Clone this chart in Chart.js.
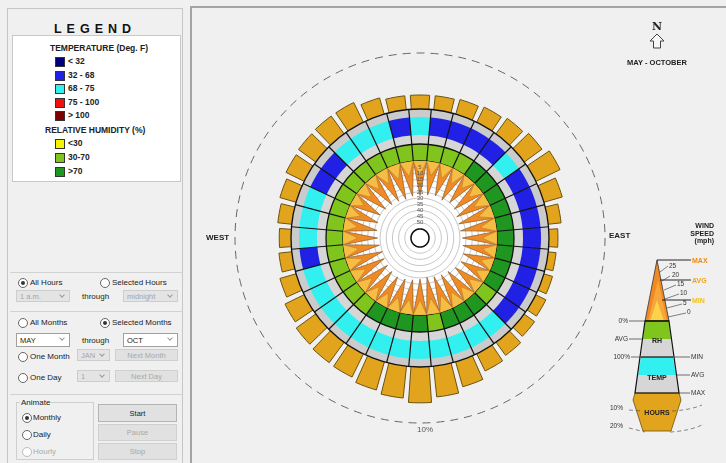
<!DOCTYPE html>
<html>
<head>
<meta charset="utf-8">
<title>Wind Wheel</title>
<script src="https://cdn.jsdelivr.net/npm/chart.js@4.4.1/dist/chart.umd.min.js"></script>
<style>
  body { margin:0; width:726px; height:463px; background:#f0f0f0; position:relative; overflow:hidden;
         font-family:"Liberation Sans", Arial, sans-serif; font-size:8px; color:#222; }
  .a { position:absolute; }
  .nar { font-family:"Liberation Sans Narrow", "Liberation Sans", sans-serif; }
  .sw { position:absolute; left:55px; width:8px; height:8px; border:1px solid #333; }
  .lt { position:absolute; left:68px; font-family:"Liberation Sans Narrow", sans-serif; font-size:8.5px; font-weight:bold; color:#222; }
  .radio { position:absolute; width:8px; height:8px; border:1px solid #666; border-radius:50%; background:#fff; }
  .radio.on::after { content:''; position:absolute; left:2px; top:2px; width:4px; height:4px; border-radius:50%; background:#333; }
  .radio.off { border-color:#bbb; }
  .sel { position:absolute; height:12px; background:#e4e4e4; border:1px solid #cdcdcd; color:#a4a4a4; line-height:12px; padding-left:3px; box-sizing:border-box; font-size:7.5px; }
  .sel.en { background:#fff; border-color:#a0a0a0; color:#222; }
  .sel::after { content:''; position:absolute; right:5px; top:2px; width:3px; height:3px; border-right:1px solid #999; border-bottom:1px solid #999; transform:rotate(45deg); }
  .btn { position:absolute; background:#e1e1e1; border:1px solid #cfcfcf; color:#a8a8a8; text-align:center; box-sizing:border-box; font-size:7.5px; }
  .btn.en { color:#222; border-color:#b4b4b4; }
  .sec { position:absolute; left:10px; width:172px; border-top:1px solid #d2d2d2; }
  canvas { position:absolute; }
</style>
</head>
<body>

<!-- left side panel -->
<div class="a" style="left:7px;top:8px;width:176px;height:460px;border:1px solid #c6c6c6;box-sizing:border-box;"></div>
<div class="a" style="left:0;width:190px;top:22px;text-align:center;font-weight:bold;font-size:12.5px;letter-spacing:5px;color:#111;">LEGEND</div>
<div class="a" style="left:12px;top:35px;width:169px;height:147px;background:#fff;border:1px solid #c8c8c8;box-sizing:border-box;"></div>
<div class="a nar" style="left:50px;top:43px;font-weight:bold;font-size:8.5px;">TEMPERATURE (Deg. F)</div>
<div id="tempLegend"></div>
<div class="a nar" style="left:45px;top:125px;font-weight:bold;font-size:8.5px;">RELATIVE HUMIDITY (%)</div>
<div id="rhLegend"></div>

<div class="sec" style="top:272px;"></div>
<div class="radio on" style="left:18px;top:278px;"></div><div class="a" style="left:30px;top:278px;">All Hours</div>
<div class="radio" style="left:100px;top:278px;"></div><div class="a" style="left:112px;top:278px;">Selected Hours</div>
<div class="sel" style="left:16px;top:290px;width:54px;">1 a.m.</div>
<div class="a" style="left:82px;top:292px;">through</div>
<div class="sel" style="left:123px;top:290px;width:55px;">midnight</div>

<div class="sec" style="top:311px;"></div>
<div class="radio" style="left:18px;top:318px;"></div><div class="a" style="left:30px;top:318px;">All Months</div>
<div class="radio on" style="left:100px;top:318px;"></div><div class="a" style="left:112px;top:318px;">Selected Months</div>
<div class="sel en" style="left:16px;top:333px;width:54px;height:14px;line-height:13px;">MAY</div>
<div class="a" style="left:82px;top:336px;">through</div>
<div class="sel en" style="left:123px;top:333px;width:55px;height:14px;line-height:13px;">OCT</div>
<div class="radio" style="left:18px;top:352px;"></div><div class="a" style="left:30px;top:352px;">One Month</div>
<div class="sel" style="left:77px;top:349px;width:33px;">JAN</div>
<div class="btn" style="left:115px;top:349px;width:63px;height:12px;line-height:11px;">Next Month</div>
<div class="radio" style="left:18px;top:373px;"></div><div class="a" style="left:30px;top:373px;">One Day</div>
<div class="sel" style="left:77px;top:370px;width:33px;">1</div>
<div class="btn" style="left:115px;top:370px;width:63px;height:12px;line-height:11px;">Next Day</div>

<div class="sec" style="top:394px;"></div>
<div class="a" style="left:16px;top:402px;width:78px;height:58px;border:1px solid #cfcfcf;box-sizing:border-box;"></div>
<div class="a" style="left:20px;top:398px;background:#f0f0f0;padding:0 1px;">Animate</div>
<div class="radio on" style="left:22px;top:413px;"></div><div class="a" style="left:33px;top:413px;">Monthly</div>
<div class="radio" style="left:22px;top:430px;"></div><div class="a" style="left:33px;top:430px;">Daily</div>
<div class="radio off" style="left:22px;top:447px;"></div><div class="a" style="left:33px;top:447px;color:#aaa;">Hourly</div>
<div class="btn en" style="left:98px;top:404px;width:79px;height:18px;line-height:17px;">Start</div>
<div class="btn" style="left:98px;top:424px;width:79px;height:17px;line-height:16px;">Pause</div>
<div class="btn" style="left:98px;top:443px;width:79px;height:17px;line-height:16px;">Stop</div>

<!-- main panel -->
<div class="a" style="left:190px;top:6px;width:536px;height:457px;border-left:2px solid #a4a4a4;border-top:2px solid #a4a4a4;box-sizing:border-box;"></div>

<canvas id="ringChart" width="400" height="400" style="left:220px;top:38px;"></canvas>
<canvas id="windChart" width="400" height="400" style="left:220px;top:38px;"></canvas>

<svg class="a" style="left:0;top:0;" width="726" height="463" font-family="Liberation Sans, Arial, sans-serif">
  <text x="206" y="240" font-size="8" font-weight="bold" fill="#222">WEST</text>
  <text x="609" y="238" font-size="8" font-weight="bold" fill="#222">EAST</text>
  <text x="425" y="432" font-size="8" fill="#555" text-anchor="middle">10%</text>

  <text x="657" y="30" font-size="11" font-weight="bold" font-family="DejaVu Serif, serif" text-anchor="middle" fill="#222">N</text>
  <polygon points="657,34 664,41 660.5,41 660.5,48 653.5,48 653.5,41 650,41" fill="#f8f8f8" stroke="#444" stroke-width="1"/>
  <text x="657" y="65" font-size="7.5" font-weight="bold" text-anchor="middle" fill="#222">MAY - OCTOBER</text>

  <g font-size="7" font-weight="bold" text-anchor="end" fill="#222">
    <text x="714" y="228">WIND</text>
    <text x="714" y="235.5">SPEED</text>
    <text x="714" y="243">(mph)</text>
  </g>

  <!-- key: wind speed spike -->
  <polygon points="657,260 669,321 645,321" fill="#f08a24"/>
  <polygon points="658,280 667,321 648,321" fill="#f6a63a"/>
  <polygon points="657,300 664,321 650,321" fill="#fcd24a"/>
  <polygon points="657,260 669,321 645,321" fill="none" stroke="#333" stroke-width="0.8"/>
  <g stroke="#111" stroke-width="0.9">
    <line x1="657" y1="260" x2="691" y2="260"/>
    <line x1="660" y1="280" x2="691" y2="280"/>
    <line x1="662" y1="300" x2="691" y2="300"/>
  </g>
  <g stroke="#333" stroke-width="0.6" fill="none">
    <path d="M660,272 L668,266"/><path d="M662,281 L670,276"/><path d="M664,290 L676,285"/>
    <path d="M665,299 L679,294"/><path d="M667,308 L682,304"/><path d="M668,317 L686,313"/>
  </g>
  <g font-size="6.5" fill="#333">
    <text x="669" y="268">25</text><text x="672" y="277">20</text><text x="677" y="286">15</text>
    <text x="680" y="295">10</text><text x="683" y="305">5</text><text x="687" y="314">0</text>
  </g>
  <g font-size="7" font-weight="bold">
    <text x="692" y="263" fill="#f08a10">MAX</text>
    <text x="692" y="283" fill="#f0a020">AVG</text>
    <text x="692" y="303" fill="#f0c020">MIN</text>
  </g>

  <!-- key: RH and TEMP bands -->
  <polygon points="645,321 669,321 671,339 643,339" fill="#80c41e"/>
  <polygon points="643,339 671,339 673,357 641,357" fill="#d6d6d6"/>
  <polygon points="641,357 673,357 676,375 638,375" fill="#33f0f0"/>
  <polygon points="638,375 676,375 679,393 635,393" fill="#d6d6d6"/>
  <polygon points="635,393 679,393 681,400 671,431 643,431 633,400" fill="#e2a41c" stroke="#6b5210" stroke-width="0.8"/>
  <polygon points="645,321 669,321 679,393 635,393" fill="none" stroke="#111" stroke-width="1.2"/>
  <line x1="641" y1="357" x2="673" y2="357" stroke="#111" stroke-width="1.2"/>
  <line x1="645" y1="321" x2="669" y2="321" stroke="#111" stroke-width="1.2"/>
  <g font-size="7" font-weight="bold" text-anchor="middle" fill="#222">
    <text x="657" y="343">RH</text>
    <text x="657" y="380">TEMP</text>
    <text x="657" y="415">HOURS</text>
  </g>
  <g stroke="#333" stroke-width="0.7">
    <line x1="629" y1="321" x2="645" y2="321"/>
    <line x1="629" y1="339" x2="643" y2="339"/>
    <line x1="631" y1="357" x2="641" y2="357"/>
    <line x1="673" y1="357" x2="690" y2="357"/>
    <line x1="676" y1="375" x2="690" y2="375"/>
    <line x1="679" y1="393" x2="690" y2="393"/>
  </g>
  <g stroke="#555" stroke-width="0.7" fill="none" stroke-dasharray="4,3">
    <path d="M629,410 L643,411 M672,411 Q690,410 702,405"/>
    <path d="M629,428 L645,432 M670,432 Q690,431 704,424"/>
  </g>
  <g font-size="6.5" fill="#333">
    <text x="628" y="323" text-anchor="end">0%</text>
    <text x="628" y="341" text-anchor="end">AVG</text>
    <text x="630" y="359" text-anchor="end">100%</text>
    <text x="691" y="359">MIN</text>
    <text x="691" y="377">AVG</text>
    <text x="691" y="395">MAX</text>
    <text x="610" y="410">10%</text>
    <text x="610" y="428">20%</text>
  </g>
</svg>

<script>
// compass directions, 10 degree sectors, clockwise from north
const directions = [0, 10, 20, 30, 40, 50, 60, 70, 80, 90, 100, 110, 120, 130, 140, 150, 160, 170,
                    180, 190, 200, 210, 220, 230, 240, 250, 260, 270, 280, 290, 300, 310, 320, 330, 340, 350];

// percent of selected hours with wind from each direction
const hoursPct = [2.5, 2.5, 2.7, 3.0, 3.4, 3.9, 4.8, 3.4, 2.3, 1.6, 1.4, 1.6, 2.0, 2.3, 2.9, 3.4, 4.6, 5.5,
                  6.4, 5.7, 5.2, 4.6, 4.5, 4.3, 3.8, 3.0, 2.3, 2.1, 2.5, 3.0, 3.6, 3.8, 3.9, 3.9, 3.0, 2.5];

// average dry bulb temperature (deg F) for each direction
const tempAvgF = [70, 66, 65, 64, 65, 68, 63, 62, 62, 61, 62, 63, 64, 66, 68, 69, 70, 71,
                  72, 72, 71, 71, 70, 70, 69, 68, 66, 69, 69, 68, 66, 67, 68, 69, 68, 67];

// average relative humidity (%) for each direction
const rhAvg = [64, 66, 67, 69, 72, 74, 76, 77, 78, 78, 77, 76, 72, 68, 71, 73, 74, 69,
               72, 73, 72, 71, 68, 66, 64, 63, 62, 61, 60, 61, 62, 62, 63, 63, 64, 64];

// wind speeds (mph) for each direction
const windMaxMph = [28, 27, 26, 27, 25, 26, 28, 29, 29, 28, 27, 25, 24, 25, 27, 28, 29, 30,
                    29, 28, 27, 26, 27, 28, 29, 30, 29, 28, 27, 26, 25, 26, 27, 28, 29, 28];
const windAvgMph = [12, 11, 11, 12, 10, 11, 12, 12, 13, 12, 11, 10, 10, 11, 11, 12, 13, 13,
                    12, 12, 11, 11, 11, 12, 12, 13, 12, 12, 11, 11, 10, 11, 11, 12, 12, 12];

// speed rings drawn inside the wheel
const mphRings = [5, 10, 15, 20, 25, 30, 35, 40, 45, 50];

const tempBins = [
  { label: '< 32', max: 32, color: '#00007f' },
  { label: '32  -  68', max: 68, color: '#2121e6' },
  { label: '68  -  75', max: 75, color: '#33f0f0' },
  { label: '75  -  100', max: 100, color: '#f01010' },
  { label: '> 100', max: Infinity, color: '#7f0000' }
];
const rhBins = [
  { label: '<30', max: 30, color: '#f5f500' },
  { label: '30-70', max: 70, color: '#80c41e' },
  { label: '>70', max: Infinity, color: '#1f961f' }
];

function binColor(bins, v) {
  return bins.find(b => v < b.max).color;
}

// legend rows
tempBins.forEach((b, i) => {
  const y = 57 + i * 13.5;
  document.getElementById('tempLegend').insertAdjacentHTML('beforeend',
    `<div class="sw" style="top:${y}px;background:${b.color}"></div><div class="lt" style="top:${y - 1}px">${b.label}</div>`);
});
rhBins.forEach((b, i) => {
  const y = 139 + i * 14;
  document.getElementById('rhLegend').insertAdjacentHTML('beforeend',
    `<div class="sw" style="top:${y}px;background:${b.color}"></div><div class="lt" style="top:${y - 1}px">${b.label}</div>`);
});

// ring radii of the wheel, in pixels of the ring chart
const R_GREEN = 94;
const R_RH = 103;
const R_TEMP = 121;
const R_OUT = 129;
const HOUR_PX = 5.6;     // pixels per percent of hours
const BAR_GAP = 36;      // arc spacing, leaves a gap between hour bars

const ringCtx = document.getElementById('ringChart').getContext('2d');
new Chart(ringCtx, {
  type: 'polarArea',
  data: {
    labels: directions.map(d => d + '°'),
    datasets: [
      { label: 'Relative humidity', data: directions.map(() => R_GREEN),
        backgroundColor: rhAvg.map(v => binColor(rhBins, v)), borderWidth: 0, order: 1, clip: false },
      { label: 'RH band', data: directions.map(() => R_RH),
        backgroundColor: '#d6d6d6', borderWidth: 0, order: 2, clip: false },
      { label: 'Temperature', data: directions.map(() => R_TEMP),
        backgroundColor: tempAvgF.map(v => binColor(tempBins, v)), borderWidth: 0, order: 3, clip: false },
      { label: 'Temp band', data: directions.map(() => R_OUT),
        backgroundColor: '#cbcbcb', borderWidth: 0, order: 4, clip: false },
      { label: 'Hours', data: hoursPct.map(p => R_OUT + p * HOUR_PX - BAR_GAP / 2),
        spacing: BAR_GAP,
        backgroundColor: '#e2a41c', borderColor: '#6b5210', borderWidth: 1, order: 5, clip: false }
    ]
  },
  options: {
    responsive: false,
    animation: false,
    events: [],
    layout: { padding: 71 },
    plugins: { legend: { display: false }, tooltip: { enabled: false } },
    scales: {
      r: {
        min: 0,
        max: R_OUT,
        startAngle: -5,
        afterBuildTicks: scale => {
          scale.ticks = [0, R_GREEN, R_OUT, R_OUT + 10 * HOUR_PX].map(v => ({ value: v }));
        },
        ticks: { display: false, z: 1 },
        grid: {
          circular: true,
          z: 1,
          color: c => c.tick && c.tick.value > R_OUT ? '#666' : '#111',
          lineWidth: c => c.tick && c.tick.value > R_OUT ? 1 : 1.3
        },
        border: { dash: c => c.tick && c.tick.value > R_OUT ? [8, 6] : [] },
        angleLines: { display: true, color: '#111', lineWidth: 1.2 },
        pointLabels: { display: false }
      }
    }
  }
});

// wind spikes: tip on each direction, base corners halfway between directions
const spikeLabels = [];
directions.forEach(d => { spikeLabels.push(d); spikeLabels.push(d + 5); });
const spikes = arr => arr.flatMap(v => [v, 0]);
const flat = v => spikeLabels.map(() => v);

// speed scale: 0 mph at the spike base circle, 55 mph at the centre circle
const BASE_R = 77, CENTER_R = 9, CENTER_MPH = 55;
const mphPx = (BASE_R - CENTER_R) / CENTER_MPH;
const mphMax = BASE_R / mphPx;
const mphMin = mphMax - 129 / mphPx;

const windCtx = document.getElementById('windChart').getContext('2d');
new Chart(windCtx, {
  type: 'radar',
  data: {
    labels: spikeLabels,
    datasets: [
      { label: 'center', data: flat(CENTER_MPH), fill: 'start', backgroundColor: '#fff',
        borderColor: '#111', borderWidth: 1.6, order: 0 },
      { label: 'Avg wind', data: spikes(windAvgMph), fill: { value: 0 }, backgroundColor: '#f6bd45',
        borderColor: '#c27a22', borderWidth: 0.6, order: 1 },
      { label: 'Max wind', data: spikes(windMaxMph), fill: { value: 0 }, backgroundColor: '#f08a24',
        borderColor: '#8a5a26', borderWidth: 0.7, order: 2 },
      ...mphRings.map(m => ({ label: m + ' mph', data: flat(m), fill: false,
        borderColor: '#c6c6c6', borderWidth: 1, order: 3 })),
      { label: 'base', data: flat(0), fill: 'start', backgroundColor: '#fff',
        borderColor: '#111', borderWidth: 1.4, order: 10 }
    ]
  },
  options: {
    responsive: false,
    animation: false,
    events: [],
    layout: { padding: 68 },
    elements: { point: { radius: 0 }, line: { tension: 0 } },
    plugins: { legend: { display: false }, tooltip: { enabled: false } },
    scales: {
      r: {
        min: mphMin,
        max: mphMax,
        reverse: true,
        startAngle: 0,
        afterBuildTicks: scale => {
          scale.ticks = mphRings.map(v => ({ value: v }));
        },
        ticks: { display: true, z: 1, font: { size: 6 }, color: '#555',
                 showLabelBackdrop: false, backdropPadding: 0 },
        grid: { display: false, circular: true },
        angleLines: { display: false },
        pointLabels: { display: false }
      }
    }
  }
});
</script>
</body>
</html>
